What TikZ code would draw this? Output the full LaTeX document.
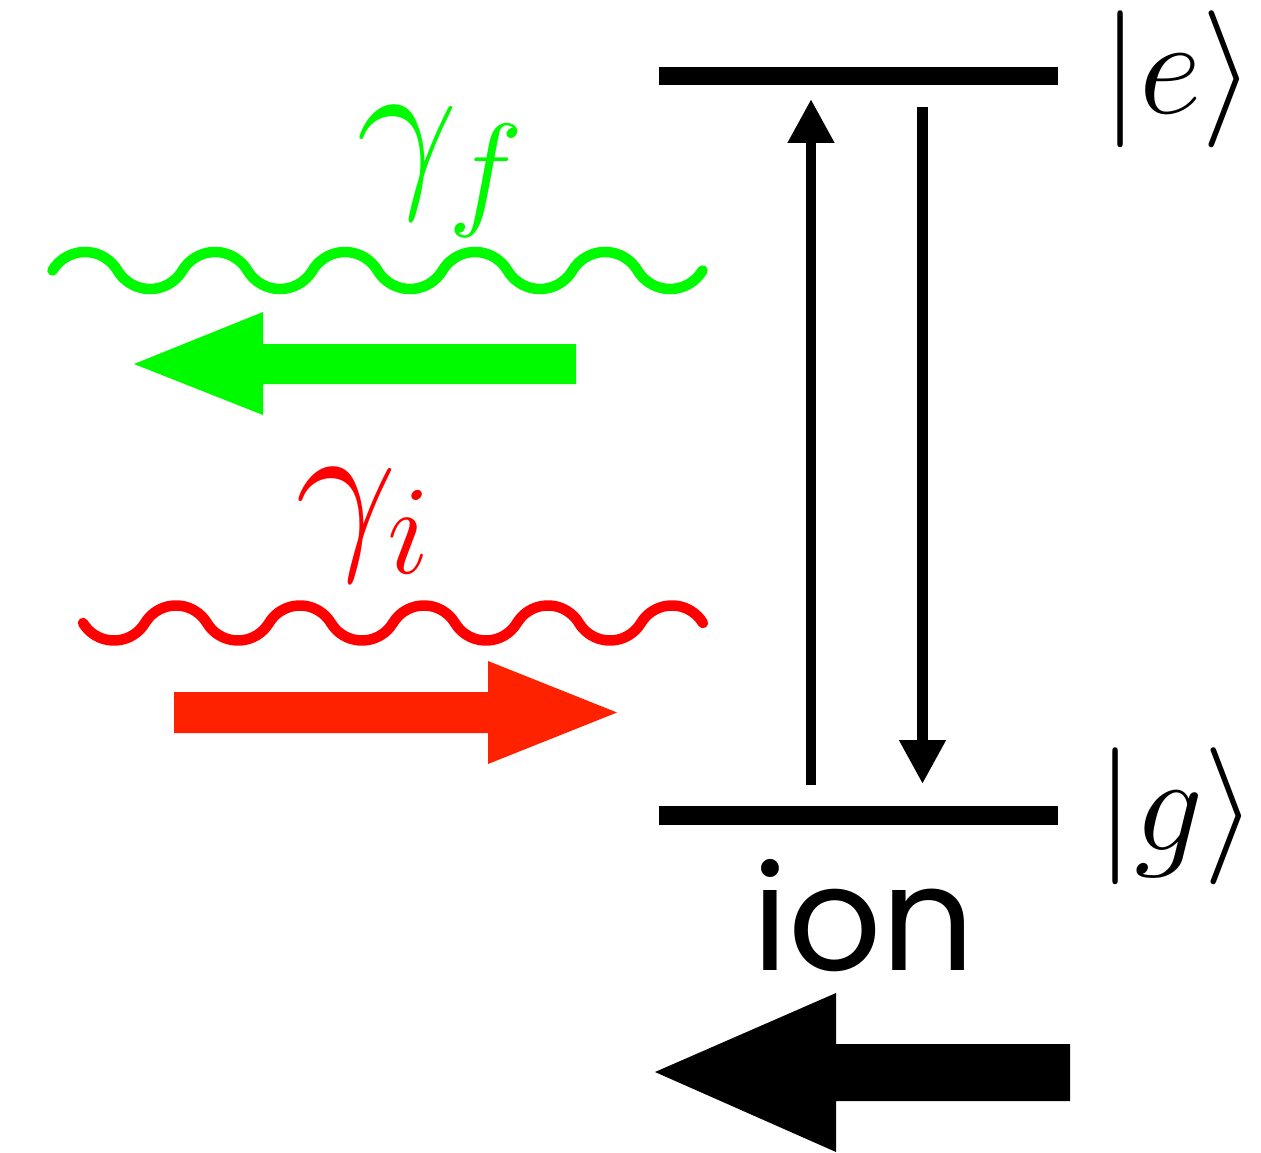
\RequirePackage{fix-cm}
\documentclass[tikz,border=0pt]{standalone}
\usepackage{fontspec}
\newfontfamily\ionfont{Poppins}
\usepackage{xcolor}
\usetikzlibrary{arrows.meta}
\definecolor{photongreen}{RGB}{0,250,0}
\definecolor{photonred}{RGB}{255,0,0}
\definecolor{kickred}{RGB}{255,34,0}

\begin{document}
\begin{tikzpicture}[x=1pt,y=-1pt,
  level/.style={line width=18.5pt},
  transition/.style={line width=10.7pt,-{Triangle[width=44pt,length=44pt]}},
  photon/.style={line width=10.5pt,line cap=round,line join=round},
  ket/.style={inner sep=0pt,anchor=base west,font=\fontsize{137}{150}\selectfont},
  gammalabel/.style={inner sep=0pt,anchor=base west,font=\fontsize{181}{200}\selectfont}]
  \useasboundingbox (0,0) rectangle (1261,1153);
  % two-level ion
  \coordinate (e1) at (659,76);    \coordinate (e2) at (1058,76);
  \coordinate (g1) at (659,815.5); \coordinate (g2) at (1058,815.5);
  \draw[level] (e1) -- (e2);
  \draw[level] (g1) -- (g2);
  \node[ket] (ketE) at (1101,114) {$|e\rangle$};
  \node[ket] (ketG) at (1096,850) {$|g\rangle$};
  \coordinate (absB) at (811,785);   \coordinate (absT) at (811,99);
  \coordinate (emT) at (922.5,107);  \coordinate (emB) at (922.5,784);
  \draw[transition] (absB) -- (absT);
  \draw[transition] (emT) -- (emB);
  \node[inner sep=0pt,anchor=base,font=\ionfont\fontsize{146}{160}\selectfont] (ion) at (864,970) {ion};
  \fill (655,1072) -- (836,993) -- (836,1044) -- (1070,1044) -- (1070,1101)
    -- (836,1101) -- (836,1152) -- cycle;
  % outgoing photon
  \draw[photon,photongreen] (52.5,270.5) \foreach \k in {1,...,5}
    { arc[start angle=149.3,end angle=30.7,radius=37.8pt]
      arc[start angle=210.7,end angle=329.3,radius=37.8pt] };
  \node[gammalabel,photongreen] (gf) at (356,185) {$\gamma_f$};
  \fill[photongreen] (134,364) -- (263,312) -- (263,344) -- (576,344) -- (576,384)
    -- (263,384) -- (263,415) -- cycle;
  % incoming photon
  \draw[photon,photonred] (83,623) \foreach \k in {1,...,5}
    { arc[start angle=211.1,end angle=328.9,radius=36.2pt]
      arc[start angle=148.9,end angle=31.1,radius=36.2pt] };
  \node[gammalabel,photonred] (gi) at (295,546) {$\gamma_i$};
  \fill[kickred] (174,692) -- (488,692) -- (488,661) -- (617,712.5) -- (488,764)
    -- (488,733) -- (174,733) -- cycle;
\end{tikzpicture}
\end{document}
